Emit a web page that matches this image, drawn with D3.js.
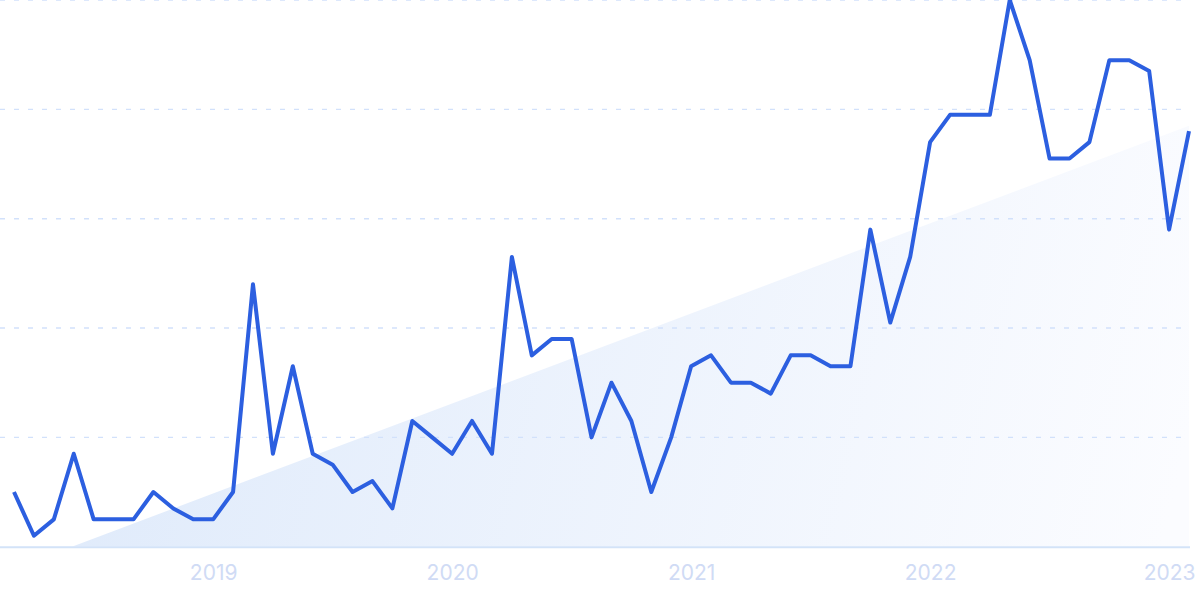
<!DOCTYPE html>
<html>
<head>
<meta charset="utf-8">
<script src="https://cdn.jsdelivr.net/npm/d3@7"></script>
<style>
  html, body { margin: 0; padding: 0; background: #ffffff; }
  svg { display: block; }
</style>
</head>
<body>
<svg id="chart" width="1200" height="599"></svg>
<script>
// Monthly values, Mar 2018 .. Feb 2023 (index 0..59)
const months = d3.range(60).map(i => new Date(2018, 2 + i, 1));
const values = [10, 2, 5, 17, 5, 5, 5, 10, 7, 5, 5, 10,
                48, 17, 33, 17, 15, 10, 12, 7, 23, 20, 17, 23,
                17, 53, 35, 38, 38, 20, 30, 23, 10, 20, 33, 35,
                30, 30, 28, 35, 35, 33, 33, 58, 41, 53, 74, 79,
                79, 79, 100, 89, 71, 71, 74, 89, 89, 87, 58, 76];
// Trend line: value at first and last month
const trendIndex = [0, 59];
const trendValues = [-4, 77];
// Year tick labels and the month index they sit on
const tickIndex = [10, 22, 34, 46, 58];
const tickLabels = ["2019", "2020", "2021", "2022", "2023"];
const gridValues = [20, 40, 60, 80, 100];

const svg = d3.select("#chart");
const x = d3.scaleLinear().domain([0, 59]).range([14, 1189]);
const y = d3.scaleLinear().domain([0, 100]).range([546.7, 0]);

const defs = svg.append("defs");
const grad = defs.append("linearGradient")
  .attr("id", "trendFill")
  .attr("gradientUnits", "userSpaceOnUse")
  .attr("x1", 100).attr("y1", 350).attr("x2", 1150).attr("y2", 600);
grad.append("stop").attr("offset", "0%").attr("stop-color", "#e0ebfb");
grad.append("stop").attr("offset", "100%").attr("stop-color", "#fbfcff");

defs.append("clipPath").attr("id", "plotClip")
  .append("rect").attr("x", x(0)).attr("y", 0)
  .attr("width", x(59) - x(0)).attr("height", y(0));

// trend area
const trendData = trendIndex.map((t, k) => ({ i: t, v: trendValues[k] }));
const area = d3.area()
  .x(d => x(d.i))
  .y0(y(0))
  .y1(d => y(d.v));
svg.append("path")
  .datum(trendData)
  .attr("clip-path", "url(#plotClip)")
  .attr("fill", "url(#trendFill)")
  .attr("d", area);

// gridlines
svg.append("g").selectAll("line")
  .data(gridValues)
  .join("line")
  .attr("x1", 0).attr("x2", x(59))
  .attr("y1", d => y(d)).attr("y2", d => y(d))
  .attr("stroke", "#d2e1fb")
  .attr("stroke-width", 1.4)
  .attr("stroke-dasharray", "5,9");

// baseline
svg.append("line")
  .attr("x1", 0).attr("x2", x(59) + 1)
  .attr("y1", y(0) + 0.5).attr("y2", y(0) + 0.5)
  .attr("stroke", "#d3e3f8")
  .attr("stroke-width", 2);

// x-axis labels
const xAxis = d3.axisBottom(x)
  .tickValues(tickIndex)
  .tickFormat((d, k) => tickLabels[k])
  .tickSize(0)
  .tickPadding(0);
const ax = svg.append("g")
  .attr("transform", `translate(0, 565)`)
  .call(xAxis);
ax.select(".domain").remove();
ax.selectAll("text")
  .attr("dy", "0.7em")
  .attr("fill", "#d0dbf5")
  .style("font-family", "Inter, 'Noto Sans', sans-serif")
  .style("font-size", "21px");

// main line
const line = d3.line()
  .x((d, i) => x(i))
  .y(d => y(d));
svg.append("path")
  .datum(values)
  .attr("fill", "none")
  .attr("stroke", "#2c5fe0")
  .attr("stroke-width", 4)
  .attr("stroke-linejoin", "round")
  .attr("d", line);
</script>
</body>
</html>
